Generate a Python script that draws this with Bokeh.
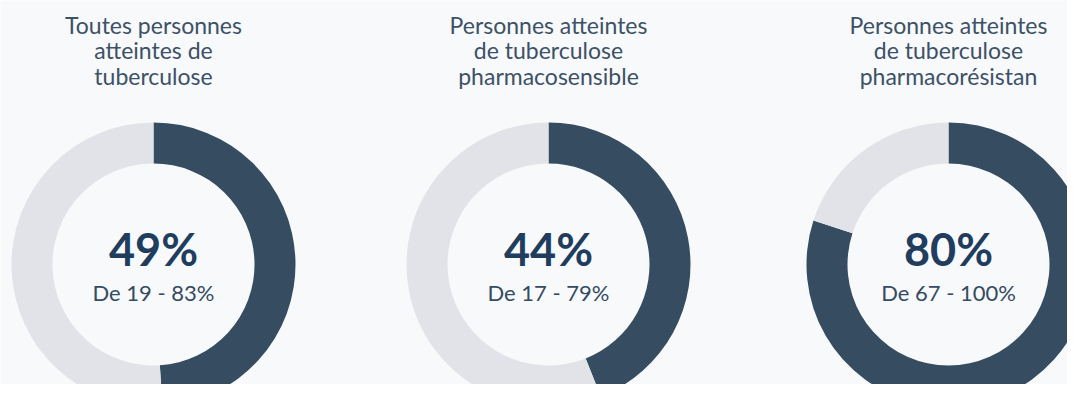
import math
from bokeh.plotting import figure
from bokeh.models import Range1d
from bokeh.core.properties import value
from bokeh.embed import file_html
from bokeh.resources import INLINE

# Data
titles = [
    ["Toutes personnes", "atteintes de", "tuberculose"],
    ["Personnes atteintes", "de tuberculose", "pharmacosensible"],
    ["Personnes atteintes", "de tuberculose", "pharmacorésistan"],
]
pct = [49, 44, 80]
low = [19, 17, 67]
high = [83, 79, 100]

W, H = 1067, 384
DARK = "#364c61"
LIGHT = "#e1e3e8"
BG = "#f8f9fa"
FONT = "Lato"

p = figure(width=W, height=H, output_backend="svg", toolbar_location=None,
           x_range=Range1d(0, W), y_range=Range1d(0, H), min_border=0)
p.axis.visible = False
p.grid.visible = False
p.outline_line_color = None
p.background_fill_color = BG
p.border_fill_color = BG

def py(img_y):
    return H - img_y

cx = [153, 548, 948]
cy = py(264)
r_out, r_in = 142, 101

for i in range(3):
    v = pct[i] / 100.0
    top = math.pi / 2
    p.annular_wedge(x=cx[i], y=cy, inner_radius=r_in, outer_radius=r_out,
                    start_angle=top - 2 * math.pi * v, end_angle=top,
                    color=DARK, line_color=None)
    p.annular_wedge(x=cx[i], y=cy, inner_radius=r_in, outer_radius=r_out,
                    start_angle=top, end_angle=top + 2 * math.pi * (1 - v),
                    color=LIGHT, line_color=None)
    for j, line in enumerate(titles[i]):
        p.text(x=[cx[i]], y=[py(24 + 25.7 * j)], text=[line],
               text_font=value(FONT), text_font_size="23px",
               text_color="#3d5167", text_align="center",
               text_baseline="middle")
    p.text(x=[cx[i]], y=[py(248)], text=[f"{pct[i]}%"],
           text_font=value(FONT), text_font_size="45px", text_font_style="bold",
           text_color="#213d5e", text_align="center", text_baseline="middle")
    p.text(x=[cx[i]], y=[py(292)], text=[f"De {low[i]} - {high[i]}%"],
           text_font=value(FONT), text_font_size="22px",
           text_color="#344b62", text_align="center", text_baseline="middle")

open("out.html", "w").write(file_html(p, INLINE))
